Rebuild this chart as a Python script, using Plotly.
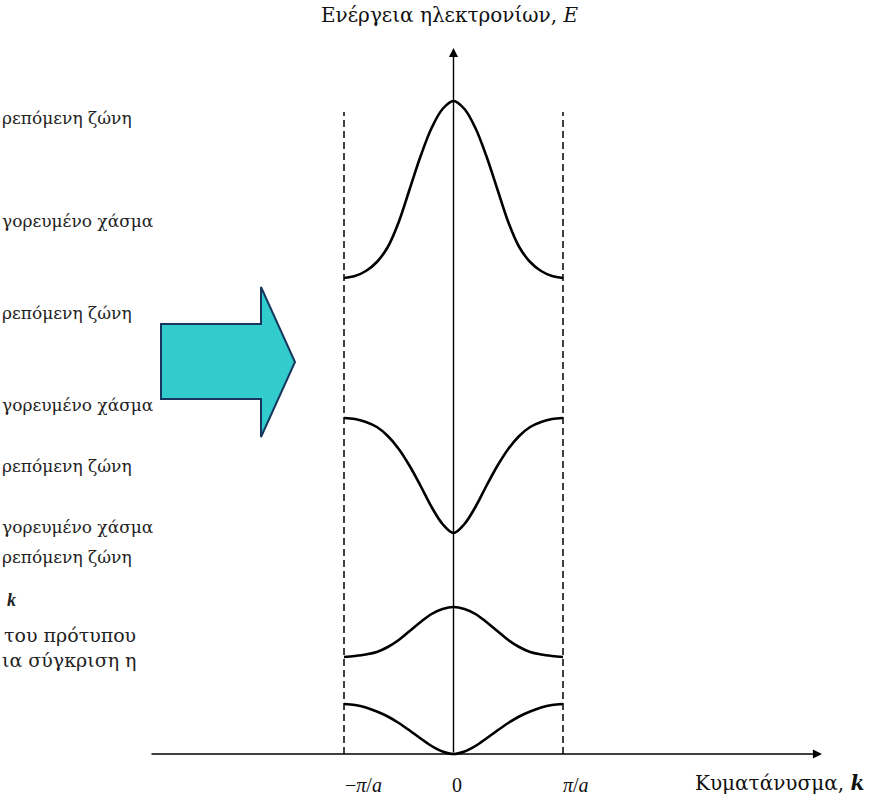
import plotly.graph_objects as go

# ---------------- data (arbitrary energy units) ----------------
k_values = [-1.0, -0.9, -0.8, -0.7, -0.6, -0.5, -0.4, -0.3, -0.2, -0.1, 0.0,
            0.1, 0.2, 0.3, 0.4, 0.5, 0.6, 0.7, 0.8, 0.9, 1.0]          # in units of pi/a

band_1 = [50, 49, 46.5, 42.5, 37.5, 31, 23.5, 15.5, 8, 2.5, 0,
          2.5, 8, 15.5, 23.5, 31, 37.5, 42.5, 46.5, 49, 50]
band_2 = [97, 98, 99.5, 102, 107, 114, 123, 132, 140, 145, 147,
          145, 140, 132, 123, 114, 107, 102, 99.5, 98, 97]
band_3 = [336, 335, 332, 327, 318, 305, 288, 268, 247, 230, 221,
          230, 247, 268, 288, 305, 318, 327, 332, 335, 336]
band_4 = [476, 478, 483, 492, 507, 532, 565, 598, 626, 645, 653,
          645, 626, 598, 565, 532, 507, 492, 483, 478, 476]
bands = [band_1, band_2, band_3, band_4]

zone_edges = [-1.0, 1.0]
tick_positions = [-1.0, 0.0, 1.0]
tick_labels = ["−<i>π</i>/<i>a</i>", "0", "<i>π</i>/<i>a</i>"]

left_labels = ["ρεπόμενη ζώνη", "γορευμένο χάσμα", "ρεπόμενη ζώνη", "γορευμένο χάσμα",
               "ρεπόμενη ζώνη", "γορευμένο χάσμα", "ρεπόμενη ζώνη"]
left_label_rows = [118, 221, 313, 405, 466, 527, 557]

y_title = "Ενέργεια ηλεκτρονίων, <i>E</i>"
x_title = "Κυματάνυσμα, <b><i>k</i></b>"

# ---------------- geometry of the page ----------------
W, H = 871, 806
X0, XS = 453.5, 109.5      # pixel of k=0, pixels per pi/a
Y0 = 754                   # pixel of E=0 (1 unit = 1 px)
SERIF = "DejaVu Serif"
MATH = "Liberation Serif"

def px(xp):
    return xp / W

def py(yp):
    return 1 - yp / H

fig = go.Figure()
for b in bands:
    fig.add_trace(go.Scatter(x=k_values, y=b, mode="lines",
                             line=dict(color="black", width=2.6, shape="spline", smoothing=1.0),
                             hoverinfo="skip", showlegend=False))

# dashed Brillouin-zone boundaries
for ke in zone_edges:
    fig.add_shape(type="line", xref="x", yref="y", x0=ke, x1=ke, y0=0, y1=642,
                  line=dict(color="black", width=1.5, dash="7px,4px"))

# axes with arrows
x_left = (150 - X0) / XS
x_right = (822 - X0) / XS
fig.add_annotation(x=x_right, y=0, ax=x_left, ay=0, xref="x", yref="y", axref="x", ayref="y",
                   text="", showarrow=True, arrowhead=2, arrowsize=1.3, arrowwidth=1.4,
                   arrowcolor="black")
fig.add_annotation(x=0, y=Y0 - 48, ax=0, ay=0, xref="x", yref="y", axref="x", ayref="y",
                   text="", showarrow=True, arrowhead=2, arrowsize=1.3, arrowwidth=1.4,
                   arrowcolor="black")

# tick labels
tick_shift = [19, 3, 13]
for kv, lab, sh in zip(tick_positions, tick_labels, tick_shift):
    fig.add_annotation(x=kv, y=-31, xref="x", yref="y", text=lab, showarrow=False, xshift=sh,
                       font=dict(family=MATH, size=20, color="#111"))

fig.add_annotation(x=px(866), y=py(783), xref="paper", yref="paper", text=x_title,
                   showarrow=False, xanchor="right", yanchor="middle",
                   font=dict(family=SERIF, size=20, color="#111"))
fig.add_annotation(x=px(450), y=py(15), xref="paper", yref="paper", text=y_title,
                   showarrow=False, xanchor="center", yanchor="middle",
                   font=dict(family=SERIF, size=20, color="#111"))

# left, cut-off text
for lab, row in zip(left_labels, left_label_rows):
    fig.add_annotation(x=0, y=py(row), xref="paper", yref="paper", text=lab,
                       showarrow=False, xanchor="left", yanchor="middle",
                       font=dict(family=SERIF, size=17, color="#222"))
fig.add_annotation(x=px(5), y=py(600), xref="paper", yref="paper", text="<b><i>k</i></b>",
                   showarrow=False, xanchor="left", yanchor="middle",
                   font=dict(family=MATH, size=18, color="#222"))
fig.add_annotation(x=px(2), y=py(635), xref="paper", yref="paper", text="του πρότυπου",
                   showarrow=False, xanchor="left", yanchor="middle",
                   font=dict(family=SERIF, size=19, color="#222"))
fig.add_annotation(x=0, y=py(660), xref="paper", yref="paper", text="ια σύγκριση η",
                   showarrow=False, xanchor="left", yanchor="middle",
                   font=dict(family=SERIF, size=19, color="#222"))

# cyan block arrow
pts = [(161, 324), (261, 324), (261, 287), (295, 362), (261, 437), (261, 399), (161, 399)]
path = "M " + " L ".join(f"{px(a):.5f},{py(b):.5f}" for a, b in pts) + " Z"
fig.add_shape(type="path", xref="paper", yref="paper", path=path,
              fillcolor="#33CCCC", line=dict(color="#17375E", width=2))

fig.update_layout(
    width=W, height=H, margin=dict(l=0, r=0, t=0, b=0, pad=0),
    paper_bgcolor="white", plot_bgcolor="white", showlegend=False,
    xaxis=dict(visible=False, range=[-X0 / XS, (W - X0) / XS], fixedrange=True),
    yaxis=dict(visible=False, range=[Y0 - H, Y0], fixedrange=True),
)

fig.write_html("out.html", post_script="document.body.style.margin='0';",
               config={"displayModeBar": False})
